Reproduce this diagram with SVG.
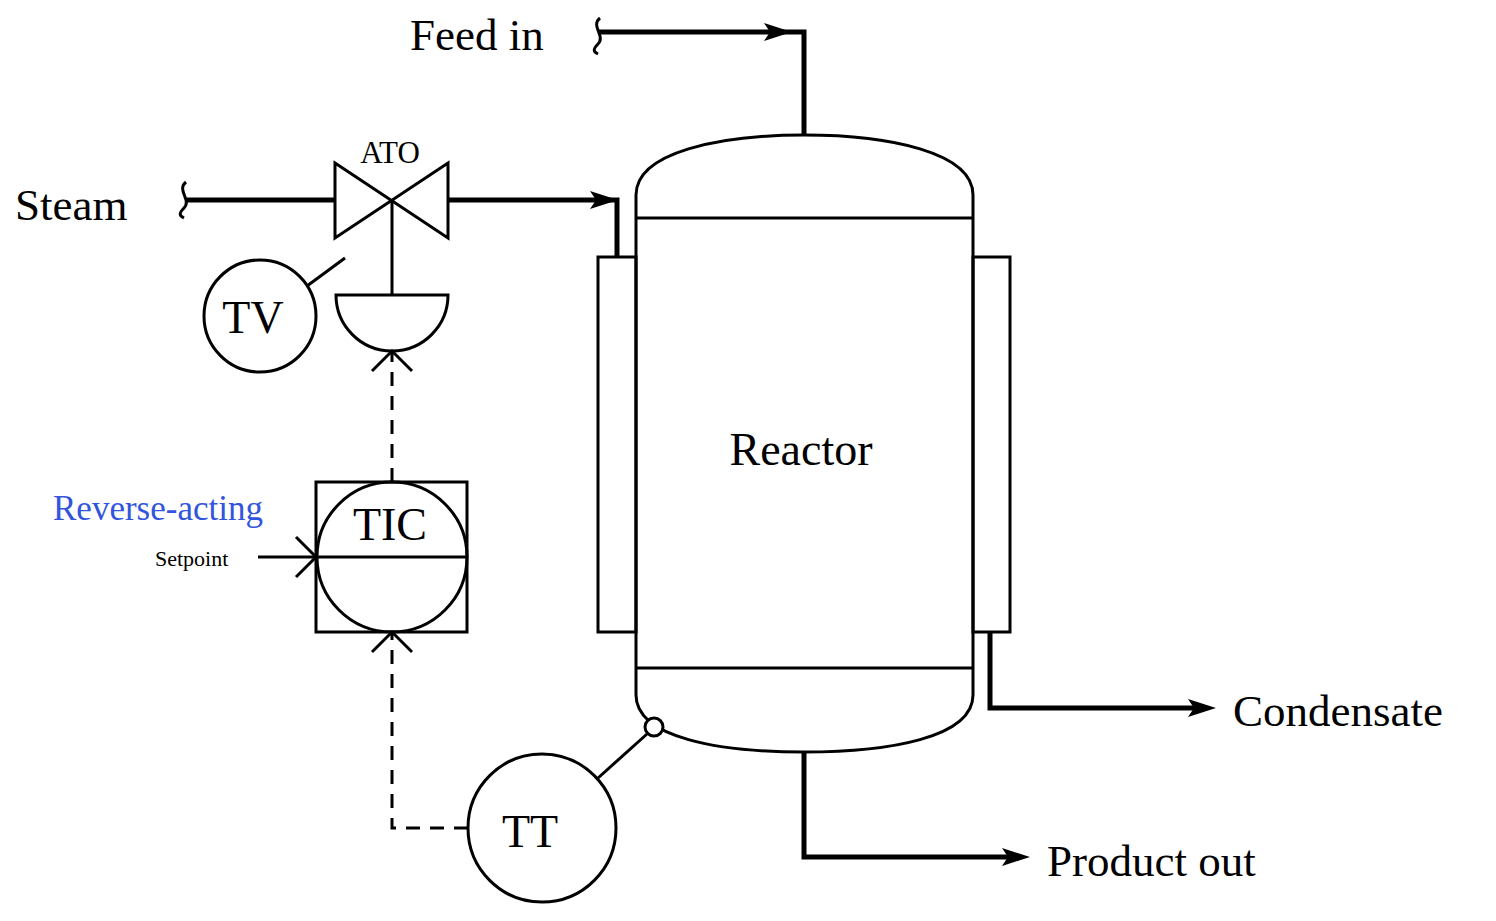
<svg xmlns="http://www.w3.org/2000/svg" width="1496" height="921" viewBox="0 0 1496 921">
<style>
.t{font-family:"Liberation Serif",serif;fill:#000}
.l{fill:none;stroke:#000;stroke-width:3}
.p{fill:none;stroke:#000;stroke-width:5}
.d{fill:none;stroke:#000;stroke-width:3;stroke-dasharray:14,10}
.h{fill:#000}
</style>
<rect width="1496" height="921" fill="#fff"/>
<g id="reactor">
<rect x="598" y="257" width="38" height="375" class="l"/>
<rect x="973" y="257" width="37" height="375" class="l"/>
<path class="l" d="M636,668 V218 V195 C636,152 720,135 804,135 C888,135 973,152 973,195 V668 V695 C973,738 888,752 804,752 C720,752 636,738 636,695 Z"/>
<line x1="636" y1="218" x2="973" y2="218" class="l"/>
<line x1="636" y1="668" x2="973" y2="668" class="l"/>
<text x="801" y="465" class="t" font-size="46" text-anchor="middle">Reactor</text>
</g>
<g id="valve">
<path class="l" d="M335,163 L448,238 L448,163 L335,238 Z"/>
<line x1="392" y1="200" x2="392" y2="295" class="l"/>
<path class="l" d="M336,295 H448 A56,56 0 0 1 336,295 Z"/>
<text x="390" y="163" class="t" font-size="31" text-anchor="middle">ATO</text>
</g>
<g id="TV">
<circle cx="260" cy="316" r="56" class="l"/>
<line x1="307" y1="286" x2="345" y2="258" class="l"/>
<text x="253" y="333" class="t" font-size="46" text-anchor="middle">TV</text>
</g>
<g id="TIC">
<rect x="316" y="482" width="151" height="150" class="l"/>
<circle cx="392" cy="557" r="75" class="l"/>
<line x1="317" y1="557" x2="467" y2="557" class="l"/>
<text x="390" y="540" class="t" font-size="46" text-anchor="middle">TIC</text>
<text x="53" y="520" font-family="Liberation Serif,serif" font-size="35" fill="#3355dd">Reverse-acting</text>
<text x="155" y="566" class="t" font-size="22">Setpoint</text>
</g>
<g id="TT">
<circle cx="542" cy="828" r="74" class="l"/>
<line x1="598" y1="778" x2="647" y2="734" class="l"/>
<circle cx="654" cy="727" r="9" fill="#fff" stroke="#000" stroke-width="3"/>
<text x="530" y="847" class="t" font-size="46" text-anchor="middle">TT</text>
</g>
<g id="labels">
<text x="410" y="50" class="t" font-size="45">Feed in</text>
<text x="15" y="220" class="t" font-size="45">Steam</text>
<text x="1233" y="726" class="t" font-size="45">Condensate</text>
<text x="1047" y="876" class="t" font-size="45">Product out</text>
</g>
<g id="connectors">
<path class="p" d="M185,200 H335"/>
<path class="l" d="M186,182 C176,190 192,200 184,208 C178,214 180,216 184,218"/>
<path class="p" d="M448,200 H617 V258"/>
<path class="h" d="M590,191 L618,200 L590,209 L596,200 Z"/>
<path class="p" d="M598,32 H804 V135"/>
<path class="l" d="M600,18 C590,26 606,36 598,44 C592,50 594,52 598,54"/>
<path class="h" d="M764,23 L792,32 L764,41 L770,32 Z"/>
<path class="p" d="M990,632 V708 H1195"/>
<path class="p" d="M804,752 V857 H1008"/>
<path class="h" d="M1188,699 L1216,708 L1188,717 L1194,708 Z"/>
<path class="h" d="M1002,848 L1030,857 L1002,866 L1008,857 Z"/>
<path class="d" d="M392,482 V353"/>
<path class="l" d="M372,371 L392,351 L412,371"/>
<path class="d" d="M468,828 H392 V634"/>
<path class="l" d="M372,652 L392,632 L412,652"/>
<line x1="258" y1="557" x2="316" y2="557" class="l"/>
<path class="l" d="M296,537 L316,557 L296,577"/>
</g>
</svg>
